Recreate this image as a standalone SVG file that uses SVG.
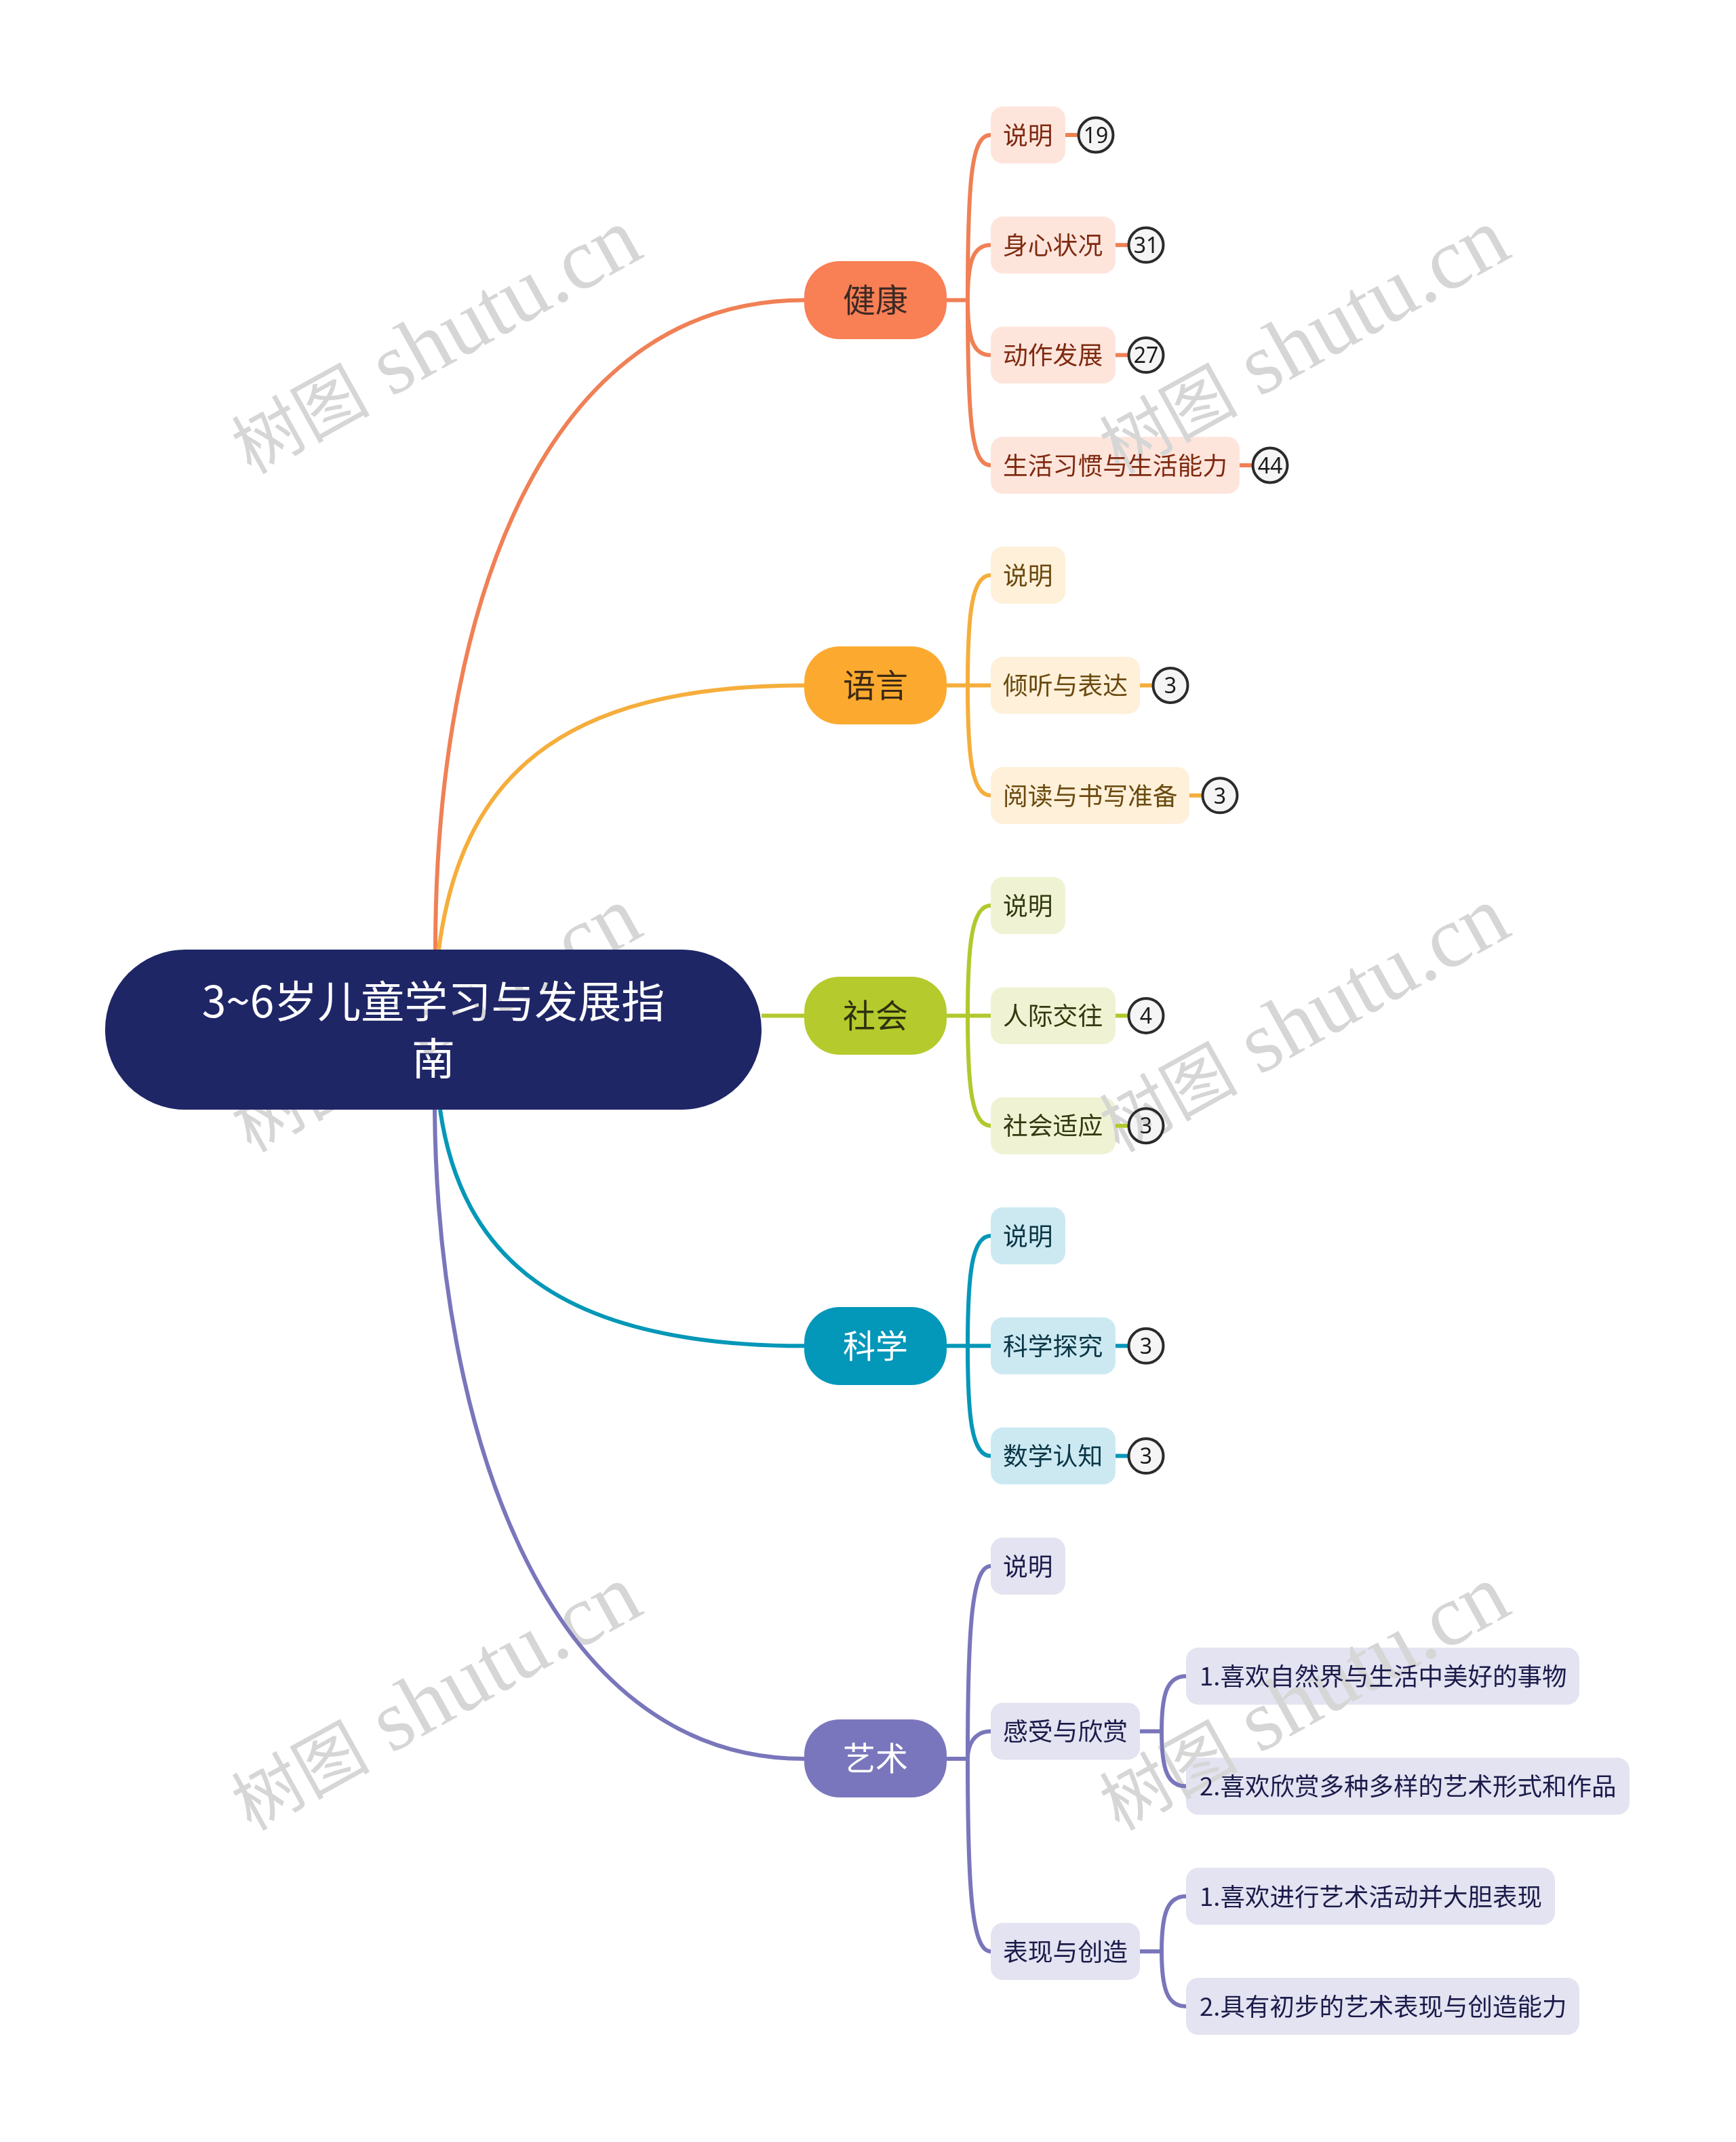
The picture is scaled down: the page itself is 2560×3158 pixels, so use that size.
<svg xmlns="http://www.w3.org/2000/svg" width="2560" height="3158" viewBox="0 0 2560 3158">
<style>
text{font-family:"Noto Sans CJK SC","Noto Sans",sans-serif}
.c{fill:none;stroke-width:6}
.or{stroke:#f08055}.ye{stroke:#f5ae3c}.gr{stroke:#b2c82d}.te{stroke:#0597b8}.pu{stroke:#7a76bb}
.l1{font-size:48px;text-anchor:middle}
.l2{font-size:36.800px}
.l3{font-size:36.500px}
.badge circle{fill:#f5f5f5;stroke:#2b2b2b;stroke-width:4}
.badge text{font-size:32px;text-anchor:middle;fill:#1a1a1a;font-family:"Noto Sans",sans-serif}
.wm{font-family:"Liberation Serif","Noto Sans CJK SC",serif;font-size:128px;fill:#d6d6d6;mix-blend-mode:darken}
.wm .z{font-family:"Noto Sans CJK SC",serif;font-size:102px}
.orb{fill:#fee5dc}.orT{fill:#7f2a10}
.yeb{fill:#fef0d9}.yeT{fill:#6b4a10}
.grb{fill:#eff3d3}.grT{fill:#333a10}
.teb{fill:#cce9f2}.teT{fill:#0a3545}
.pub{fill:#e3e3f1}.puT{fill:#1b1b4b}
</style>
<rect width="2560" height="3158" fill="#ffffff"/>
<g id="connectors">
<path class="c or" d="M642 1400C642 900 800 442.500 1186 442.500"/>
<path class="c ye" d="M647 1400C680 1150 820 1010.500 1186 1010.500"/>
<path class="c gr" d="M1123 1497.500H1186"/>
<path class="c te" d="M649 1636C680 1850 820 1984.300 1186 1984.300"/>
<path class="c pu" d="M641 1636C645 2100 800 2593 1186 2593"/>
<path class="c or" d="M1396 442.500H1427M1427 442.500C1427 260 1433 199 1461 199M1427 442.500C1427 385 1435 361.300 1461 361.300M1427 442.500C1427 500 1435 523.600 1461 523.600M1427 442.500C1427 625 1433 686 1461 686"/>
<path class="c or" d="M1571 199H1600M1644 361.300H1670M1644 523.600H1670M1826 686H1860"/>
<path class="c ye" d="M1396 1010.500H1461M1427 1010.500C1427 905 1433 848 1461 848M1427 1010.500C1427 1116 1433 1172.800 1461 1172.800"/>
<path class="c ye" d="M1680 1010.500H1710M1752 1172.800H1785"/>
<path class="c gr" d="M1396 1497.400H1461M1427 1497.400C1427 1392 1433 1335 1461 1335M1427 1497.400C1427 1603 1433 1659.700 1461 1659.700"/>
<path class="c gr" d="M1644 1497.400H1670M1644 1659.700H1670"/>
<path class="c te" d="M1396 1984.300H1461M1427 1984.300C1427 1879 1433 1822 1461 1822M1427 1984.300C1427 2090 1433 2146.600 1461 2146.600"/>
<path class="c te" d="M1644 1984.300H1670M1644 2146.600H1670"/>
<path class="c pu" d="M1396 2593H1427M1427 2593C1427 2400 1433 2309 1461 2309M1427 2593C1427 2575 1435 2552.400 1461 2552.400M1427 2593C1427 2785 1433 2877 1461 2877"/>
<path class="c pu" d="M1680 2552.400H1713M1713 2552.400C1713 2495 1722 2471.200 1749 2471.200M1713 2552.400C1713 2610 1722 2633.500 1749 2633.500"/>
<path class="c pu" d="M1680 2877H1713M1713 2877C1713 2820 1722 2795.800 1749 2795.800M1713 2877C1713 2934 1722 2958 1749 2958"/>
</g>
<g id="root"><rect x="155" y="1400" width="968" height="236" rx="118" fill="#1f2666"/><text x="639" y="1500" font-size="64" fill="#ffffff" text-anchor="middle">3~6岁儿童学习与发展指</text><text x="639" y="1584" font-size="64" fill="#ffffff" text-anchor="middle">南</text></g>
<g id="n-jiankang"><rect x="1186" y="385" width="210" height="115" rx="52" fill="#f97f55"/><text class="l1" x="1291" y="460" fill="#3d2a24">健康</text></g>
<g id="n-yuyan"><rect x="1186" y="953" width="210" height="115" rx="52" fill="#fcaa2f"/><text class="l1" x="1291" y="1028" fill="#3d2a14">语言</text></g>
<g id="n-shehui"><rect x="1186" y="1440" width="210" height="115" rx="52" fill="#b5ca2c"/><text class="l1" x="1291" y="1515" fill="#2c3210">社会</text></g>
<g id="n-kexue"><rect x="1186" y="1927" width="210" height="115" rx="52" fill="#0397b9"/><text class="l1" x="1291" y="2002" fill="#ffffff">科学</text></g>
<g id="n-yishu"><rect x="1186" y="2535" width="210" height="115" rx="52" fill="#7a76bd"/><text class="l1" x="1291" y="2610" fill="#ffffff">艺术</text></g>

<g id="a1"><rect class="orb" x="1461" y="157" width="110" height="84" rx="18"/><text class="l2 orT" x="1479" y="213">说明</text></g>
<g id="a1b" class="badge"><circle cx="1616" cy="199" r="25.500"/><text x="1616" y="211">19</text></g>
<g id="a2"><rect class="orb" x="1461" y="319.300" width="184" height="84" rx="18"/><text class="l2 orT" x="1479" y="375">身心状况</text></g>
<g id="a2b" class="badge"><circle cx="1690" cy="361.300" r="25.500"/><text x="1690" y="373">31</text></g>
<g id="a3"><rect class="orb" x="1461" y="481.600" width="184" height="84" rx="18"/><text class="l2 orT" x="1479" y="537">动作发展</text></g>
<g id="a3b" class="badge"><circle cx="1690" cy="523.600" r="25.500"/><text x="1690" y="535">27</text></g>
<g id="a4"><rect class="orb" x="1461" y="644" width="367" height="84" rx="18"/><text class="l2 orT" x="1479" y="700">生活习惯与生活能力</text></g>
<g id="a4b" class="badge"><circle cx="1873" cy="686" r="25.500"/><text x="1873" y="698">44</text></g>

<g id="b1"><rect class="yeb" x="1461" y="806" width="110" height="84" rx="18"/><text class="l2 yeT" x="1479" y="862">说明</text></g>
<g id="b2"><rect class="yeb" x="1461" y="968.500" width="220" height="84" rx="18"/><text class="l2 yeT" x="1479" y="1024">倾听与表达</text></g>
<g id="b2b" class="badge"><circle cx="1726" cy="1010.500" r="25.500"/><text x="1726" y="1022">3</text></g>
<g id="b3"><rect class="yeb" x="1461" y="1130.800" width="293" height="84" rx="18"/><text class="l2 yeT" x="1479" y="1187">阅读与书写准备</text></g>
<g id="b3b" class="badge"><circle cx="1799" cy="1172.800" r="25.500"/><text x="1799" y="1185">3</text></g>

<g id="c1"><rect class="grb" x="1461" y="1293" width="110" height="84" rx="18"/><text class="l2 grT" x="1479" y="1349">说明</text></g>
<g id="c2"><rect class="grb" x="1461" y="1455.400" width="184" height="84" rx="18"/><text class="l2 grT" x="1479" y="1511">人际交往</text></g>
<g id="c2b" class="badge"><circle cx="1690" cy="1497.400" r="25.500"/><text x="1690" y="1509">4</text></g>
<g id="c3"><rect class="grb" x="1461" y="1617.700" width="184" height="84" rx="18"/><text class="l2 grT" x="1479" y="1673">社会适应</text></g>
<g id="c3b" class="badge"><circle cx="1690" cy="1659.700" r="25.500"/><text x="1690" y="1671">3</text></g>

<g id="d1"><rect class="teb" x="1461" y="1780" width="110" height="84" rx="18"/><text class="l2 teT" x="1479" y="1836">说明</text></g>
<g id="d2"><rect class="teb" x="1461" y="1942.300" width="184" height="84" rx="18"/><text class="l2 teT" x="1479" y="1998">科学探究</text></g>
<g id="d2b" class="badge"><circle cx="1690" cy="1984.300" r="25.500"/><text x="1690" y="1996">3</text></g>
<g id="d3"><rect class="teb" x="1461" y="2104.600" width="184" height="84" rx="18"/><text class="l2 teT" x="1479" y="2160">数学认知</text></g>
<g id="d3b" class="badge"><circle cx="1690" cy="2146.600" r="25.500"/><text x="1690" y="2158">3</text></g>

<g id="e1"><rect class="pub" x="1461" y="2267" width="110" height="84" rx="18"/><text class="l2 puT" x="1479" y="2323">说明</text></g>
<g id="e2"><rect class="pub" x="1461" y="2510.400" width="220" height="84" rx="18"/><text class="l2 puT" x="1479" y="2566">感受与欣赏</text></g>
<g id="e3"><rect class="pub" x="1461" y="2835" width="220" height="84" rx="18"/><text class="l2 puT" x="1479" y="2891">表现与创造</text></g>
<g id="e21"><rect class="pub" x="1749" y="2429.200" width="580" height="84" rx="18"/><text class="l3 puT" x="1769" y="2485">1.喜欢自然界与生活中美好的事物</text></g>
<g id="e22"><rect class="pub" x="1749" y="2591.500" width="654" height="84" rx="18"/><text class="l3 puT" x="1769" y="2647">2.喜欢欣赏多种多样的艺术形式和作品</text></g>
<g id="e31"><rect class="pub" x="1749" y="2753.800" width="544" height="84" rx="18"/><text class="l3 puT" x="1769" y="2810">1.喜欢进行艺术活动并大胆表现</text></g>
<g id="e32"><rect class="pub" x="1749" y="2916" width="580" height="84" rx="18"/><text class="l3 puT" x="1769" y="2972">2.具有初步的艺术表现与创造能力</text></g>

<g id="watermarks">
<text class="wm" transform="translate(370 700) rotate(-29)"><tspan class="z">树图</tspan> shutu.cn</text>
<text class="wm" transform="translate(1650 700) rotate(-29)"><tspan class="z">树图</tspan> shutu.cn</text>
<text class="wm" transform="translate(370 1700) rotate(-29)"><tspan class="z">树图</tspan> shutu.cn</text>
<text class="wm" transform="translate(1650 1700) rotate(-29)"><tspan class="z">树图</tspan> shutu.cn</text>
<text class="wm" transform="translate(370 2700) rotate(-29)"><tspan class="z">树图</tspan> shutu.cn</text>
<text class="wm" transform="translate(1650 2700) rotate(-29)"><tspan class="z">树图</tspan> shutu.cn</text>
</g>
</svg>
